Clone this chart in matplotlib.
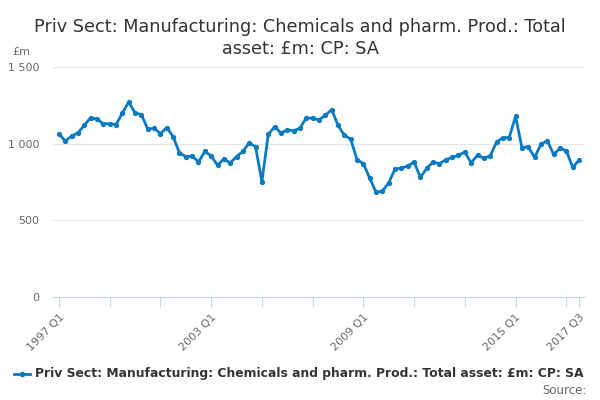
import numpy as np
import matplotlib
matplotlib.use('Agg')
import matplotlib.pyplot as plt
from matplotlib.ticker import FuncFormatter

# quarterly values, 1997 Q1 .. 2017 Q3 (£m)
values = [
    1063, 1017, 1050, 1070, 1120, 1170, 1160, 1130,
    1130, 1125, 1200, 1272, 1200, 1190, 1095, 1100,
    1065, 1105, 1045, 940, 915, 920, 880, 950,
    920, 860, 900, 875, 915, 950, 1005, 980,
    752, 1060, 1110, 1070, 1090, 1085, 1100, 1170,
    1165, 1155, 1185, 1222, 1120, 1055, 1030, 895,
    870, 775, 683, 690, 745, 835, 840, 855,
    880, 780, 840, 880, 870, 895, 910, 925,
    945, 875, 925, 905, 920, 1010, 1040, 1040,
    1178, 975, 980, 910, 995, 1020, 930, 970,
    955, 845, 892,
]
quarters = ['%d Q%d' % (1997 + i // 4, i % 4 + 1) for i in range(len(values))]
tick_pos = list(range(0, 81, 8)) + [82]
label_pos = [0, 24, 48, 72, 82]
series_name = 'Priv Sect: Manufacturing: Chemicals and pharm. Prod.: Total asset: £m: CP: SA'

blue = '#0a7bc1'
grey = '#666666'

fig = plt.figure(figsize=(6, 4), dpi=100)
ax = fig.add_axes([52/600, 103/400, 533/600, 230/400])

x = np.arange(len(values))
ax.plot(x, values, color=blue, lw=2, marker='o', ms=2.8, zorder=3)

ax.set_xlim(-1.1, 82.95)
ax.set_ylim(0, 1500)
ax.set_yticks([0, 500, 1000, 1500])
ax.yaxis.set_major_formatter(FuncFormatter(lambda v, p: '{:,.0f}'.format(v).replace(',', ' ')))
ax.grid(axis='y', color='#e6e6e6', lw=1)
ax.set_axisbelow(True)
ax.tick_params(axis='y', length=0, labelsize=8, labelcolor=grey, pad=9)

ax.set_xticks(tick_pos)
ax.set_xticklabels([quarters[i] if i in label_pos else '' for i in tick_pos],
                   rotation=45, ha='right', rotation_mode='anchor')
ax.tick_params(axis='x', length=7, color='#ccd6eb', labelsize=8, labelcolor=grey, pad=4)

for s in ['top', 'right', 'left']:
    ax.spines[s].set_visible(False)
ax.spines['bottom'].set_color('#ccd6eb')

fig.text(0.5, 0.955, 'Priv Sect: Manufacturing: Chemicals and pharm. Prod.: Total\nasset: £m: CP: SA',
         ha='center', va='top', fontsize=12.7, color='#333333', linespacing=1.25)
fig.text(12/600, 1 - 52/400, '£m', fontsize=8, color=grey, va='center')

# legend
fig.add_artist(plt.Line2D([14/600, 30/600], [1 - 374/400] * 2, color=blue, lw=2))
fig.add_artist(plt.Line2D([22/600], [1 - 374/400], color=blue, marker='o', ms=3))
fig.text(35/600, 1 - 374/400, series_name, fontsize=8.9, fontweight='bold',
         color='#333333', va='center')
fig.text(587/600, 1 - 391/400, 'Source:', fontsize=8.5, color=grey, ha='right', va='center')

fig.savefig('out.png', dpi=100)
